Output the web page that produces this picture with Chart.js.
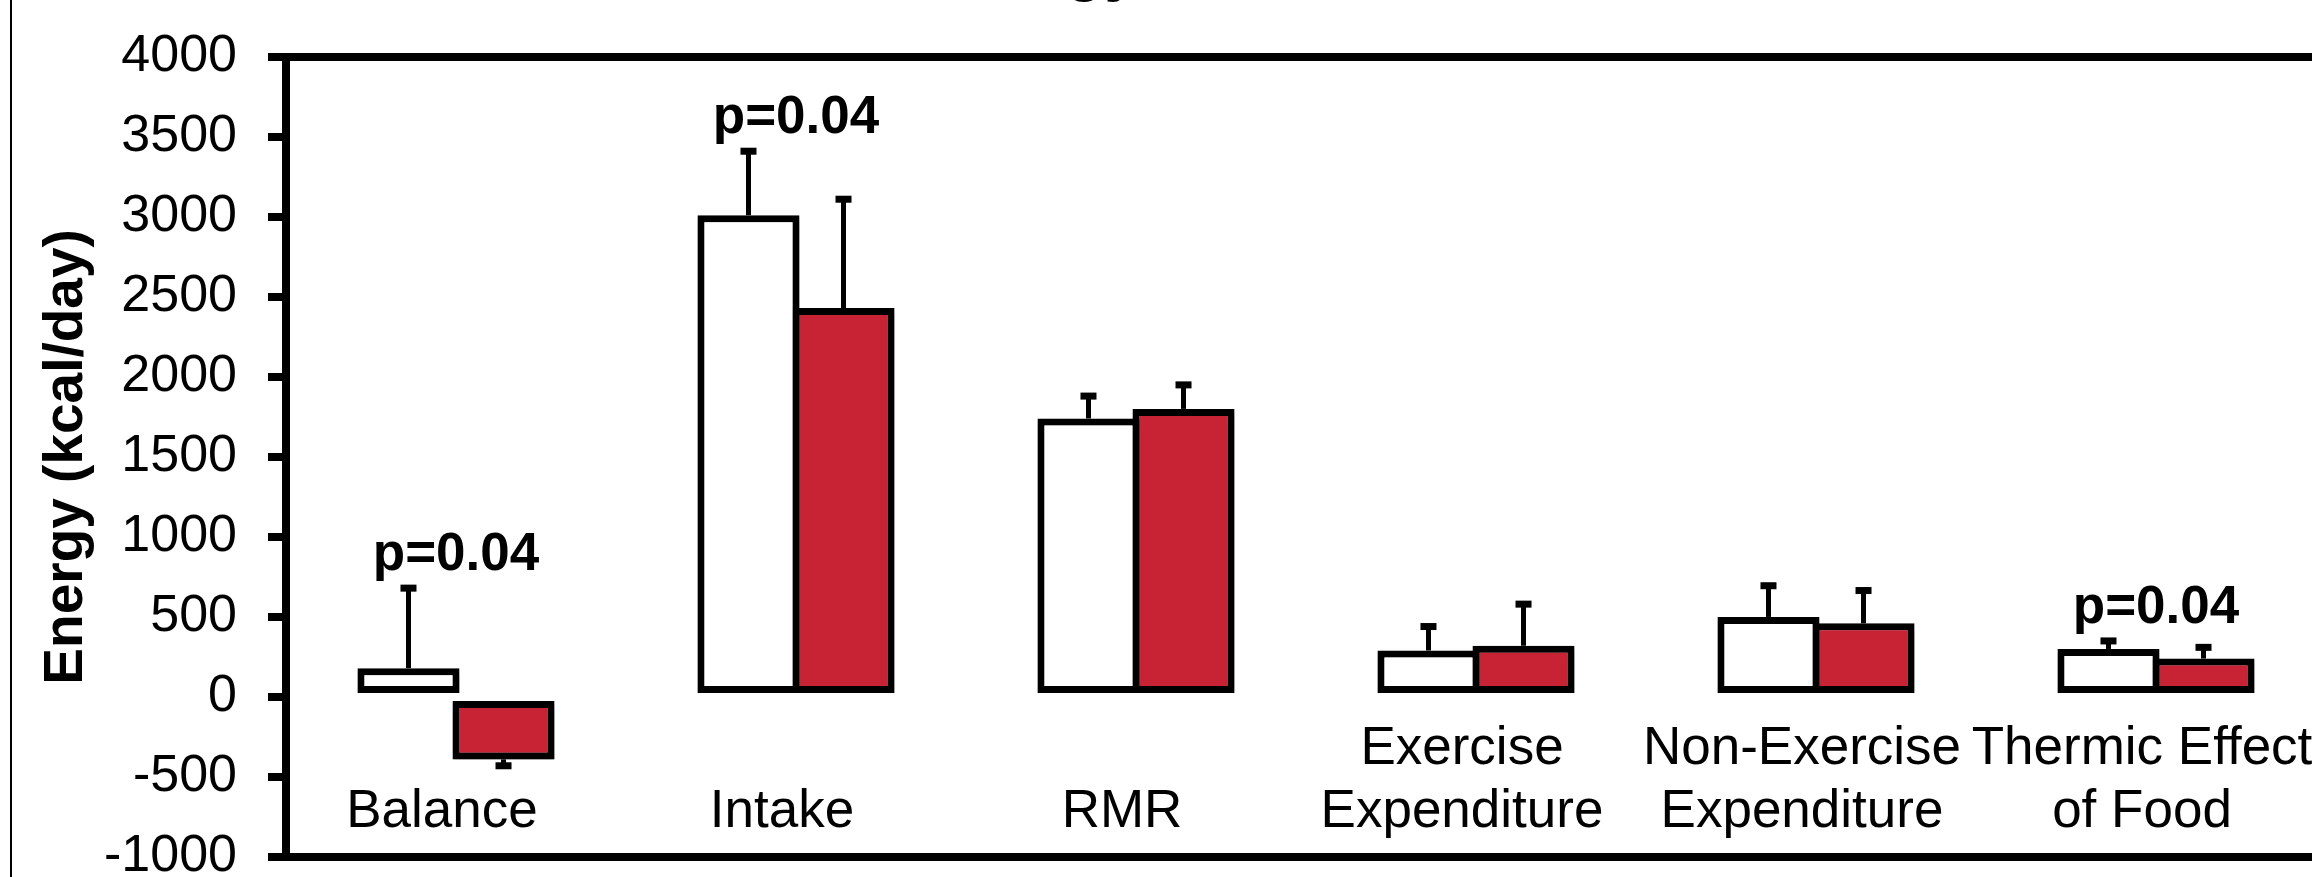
<!DOCTYPE html>
<html>
<head>
<meta charset="utf-8">
<script src="https://cdn.jsdelivr.net/npm/chart.js@4.4.1/dist/chart.umd.min.js"></script>
<style>
  html, body { margin: 0; padding: 0; background: #fff; overflow: hidden; }
  #wrap { position: relative; width: 2340px; height: 877px; }
  #frame { position: absolute; left: 10px; top: 0; width: 2px; height: 877px; background: #000; }
</style>
</head>
<body>
<div id="wrap">
  <canvas id="chart" width="2340" height="877"></canvas>
  <div id="frame"></div>
</div>
<script>
// ==================== data ====================
const categories = ['Balance', 'Intake', 'RMR', ['Exercise', 'Expenditure'], ['Non-Exercise', 'Expenditure'], ['Thermic Effect', 'of Food']];
const whiteValues = [180, 3010, 1740, 290, 500, 300];
const redValues = [-390, 2430, 1800, 320, 460, 240];
const whiteErrors = [500, 400, 140, 150, 195, 50];
const redErrors = [40, 680, 150, 260, 205, 70];
const pLabels = ['p=0.04', 'p=0.04', '', '', '', 'p=0.04'];
const yMin = -1000;
const yMax = 4000;
const yStep = 500;

const FONT = "'Liberation Sans', Arial, sans-serif";
Chart.defaults.font.family = FONT;
Chart.defaults.color = '#000';

// soft shadow under the bars
const barShadow = {
    id: 'barShadow',
    beforeDatasetsDraw(chart) {
        const c = chart.ctx;
        c.save();
        c.shadowColor = 'rgba(0,0,0,0.35)';
        c.shadowBlur = 8;
        c.shadowOffsetX = 2;
        c.shadowOffsetY = 5;
    },
    afterDatasetsDraw(chart) {
        chart.ctx.restore();
    }
};

// one-sided error bars (away from zero)
const errorBars = {
    id: 'errorBars',
    afterDatasetsDraw(chart) {
        const ctx = chart.ctx;
        const y = chart.scales.y;
        ctx.save();
        ctx.strokeStyle = '#000';
        ctx.fillStyle = '#000';
        ctx.lineWidth = 5;
        chart.data.datasets.forEach((ds, di) => {
            const meta = chart.getDatasetMeta(di);
            meta.data.forEach((bar, i) => {
                const v = ds.data[i];
                const e = ds.errors[i];
                const end = v >= 0 ? v + e : v - e;
                const y0 = y.getPixelForValue(v);
                const y1 = y.getPixelForValue(end);
                ctx.beginPath();
                ctx.moveTo(bar.x, y0);
                ctx.lineTo(bar.x, y1);
                ctx.stroke();
                ctx.fillRect(bar.x - 8, y1 - 3.5, 16, 7);
            });
        });
        ctx.restore();
    }
};

// p-value labels above the tallest error bar of a category
const pValueLabels = {
    id: 'pValueLabels',
    afterDatasetsDraw(chart) {
        const ctx = chart.ctx;
        const x = chart.scales.x;
        const y = chart.scales.y;
        ctx.save();
        ctx.font = 'bold 53px ' + FONT;
        ctx.fillStyle = '#000';
        ctx.textAlign = 'center';
        ctx.textBaseline = 'alphabetic';
        pLabels.forEach((txt, i) => {
            if (!txt) return;
            let top = 0;
            chart.data.datasets.forEach(ds => {
                const v = ds.data[i];
                if (v >= 0) top = Math.max(top, v + ds.errors[i]);
            });
            ctx.fillText(txt, x.getPixelForValue(i), y.getPixelForValue(top) - 18);
        });
        ctx.restore();
    }
};

const ctx = document.getElementById('chart').getContext('2d');

new Chart(ctx, {
    type: 'bar',
    data: {
        labels: categories,
        datasets: [
            {
                label: 'white',
                data: whiteValues,
                errors: whiteErrors,
                backgroundColor: '#ffffff',
                borderColor: '#000000',
                borderWidth: 7,
                borderSkipped: false
            },
            {
                label: 'red',
                data: redValues,
                errors: redErrors,
                backgroundColor: '#C72334',
                borderColor: '#000000',
                borderWidth: 7,
                borderSkipped: false
            }
        ]
    },
    options: {
        responsive: false,
        animation: false,
        devicePixelRatio: 1,
        categoryPercentage: 0.559,
        barPercentage: 1.074,
        layout: { padding: { left: 0, right: 14, top: 0, bottom: 20 } },
        plugins: {
            legend: { display: false },
            tooltip: { enabled: false },
            title: {
                display: true,
                text: 'Energy Balance',
                color: '#000',
                font: { size: 64, weight: 'bold', lineHeight: 1.2 },
                padding: { top: -67, bottom: 47 }
            }
        },
        scales: {
            x: {
                type: 'category',
                position: { y: yMin },
                grid: { display: false, drawTicks: false },
                border: { display: true, color: '#000', width: 8 },
                ticks: {
                    color: '#000',
                    font: { size: 53, lineHeight: 1.2 },
                    padding: -108,
                    labelOffset: -14,
                    crossAlign: 'far',
                    maxRotation: 0,
                    minRotation: 0,
                    autoSkip: false
                },
                afterFit: s => {
                    s.height = 20;
                    s.paddingLeft = 0;
                    s.paddingRight = 0;
                }
            },
            y: {
                min: yMin,
                max: yMax,
                ticks: {
                    stepSize: yStep,
                    color: '#000',
                    font: { size: 52 },
                    padding: 31,
                    callback: v => String(v)
                },
                grid: {
                    drawOnChartArea: true,
                    drawTicks: true,
                    color: c => (c.tick && c.tick.value === yMax ? '#000' : 'rgba(0,0,0,0)'),
                    lineWidth: 8,
                    tickColor: '#000',
                    tickWidth: 8,
                    tickLength: 18
                },
                border: { display: true, color: '#000', width: 8 },
                title: {
                    display: true,
                    text: 'Energy (kcal/day)',
                    color: '#000',
                    font: { size: 55, weight: 'bold', lineHeight: 1.2 },
                    padding: { top: 34, bottom: 0 }
                },
                afterFit: s => {
                    s.width = 286;
                    s.paddingTop = 0;
                    s.paddingBottom = 0;
                }
            }
        }
    },
    plugins: [barShadow, errorBars, pValueLabels]
});
</script>
</body>
</html>
